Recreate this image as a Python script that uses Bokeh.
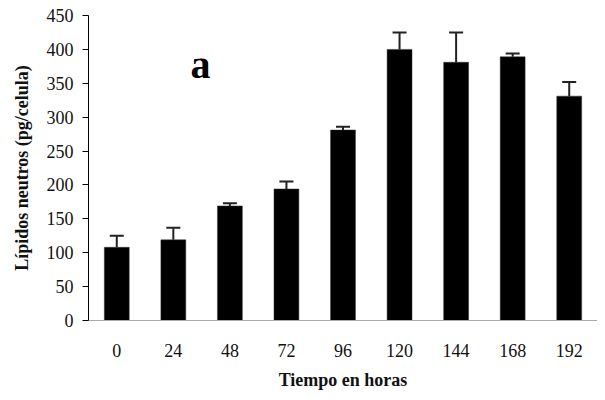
from bokeh.plotting import figure
from bokeh.models import ColumnDataSource, Whisker, TeeHead, FixedTicker, Label, FactorRange
from bokeh.embed import file_html
from bokeh.resources import INLINE

hours = ["0", "24", "48", "72", "96", "120", "144", "168", "192"]
lipids = [108, 119, 169, 194, 281, 400, 381, 389, 331]
errors = [17, 18, 4, 11, 5, 25, 44, 5, 21]
y_ticks = [0, 50, 100, 150, 200, 250, 300, 350, 400, 450]

upper = [v + e for v, e in zip(lipids, errors)]
src = ColumnDataSource(dict(x=hours, y=lipids, upper=upper))

p = figure(x_range=FactorRange(*hours), y_range=(0, 450), width=597, height=392,
           output_backend="svg", toolbar_location=None,
           min_border_left=88, min_border_right=0, min_border_top=15, min_border_bottom=72)

p.vbar(x="x", top="y", width=0.44, source=src, fill_color="black", line_color="#333333", line_width=0.5)

w = Whisker(base="x", lower="y", upper="upper", source=src,
            upper_head=TeeHead(size=14, line_color="#222222", line_width=2),
            lower_head=None, line_color="#222222", line_width=2)
p.add_layout(w)

serif = "Liberation Serif"
p.grid.visible = False
p.outline_line_color = None
p.background_fill_color = "white"

p.yaxis.ticker = FixedTicker(ticks=y_ticks)
p.yaxis.minor_tick_line_color = None
p.yaxis.major_tick_out = 6
p.yaxis.major_tick_in = 0
p.yaxis.axis_line_color = "black"
p.yaxis.major_tick_line_color = "black"
p.yaxis.major_label_text_font = serif
p.yaxis.major_label_text_font_size = "18px"
p.yaxis.major_label_text_color = "#111111"
p.yaxis.major_label_standoff = 9
p.yaxis.axis_label = "Lípidos neutros (pg/celula)"
p.yaxis.axis_label_text_font = serif
p.yaxis.axis_label_text_font_style = "bold"
p.yaxis.axis_label_text_font_size = "18px"
p.yaxis.axis_label_text_color = "#111111"
p.yaxis.axis_label_standoff = 12

p.xaxis.major_tick_line_color = None
p.xaxis.minor_tick_line_color = None
p.xaxis.axis_line_color = "#aaaaaa"
p.xaxis.major_label_text_font = serif
p.xaxis.major_label_text_font_size = "18px"
p.xaxis.major_label_text_color = "#111111"
p.xaxis.major_label_standoff = 17
p.xaxis.axis_label = "Tiempo en horas"
p.xaxis.axis_label_text_font = serif
p.xaxis.axis_label_text_font_style = "bold"
p.xaxis.axis_label_text_font_size = "18px"
p.xaxis.axis_label_text_color = "#111111"
p.xaxis.axis_label_standoff = 10

p.add_layout(Label(x=112, y=256, x_units="screen", y_units="screen", text="a",
                   text_font=serif, text_font_style="bold", text_font_size="40px",
                   text_color="black", text_align="center", text_baseline="middle"))

open("out.html", "w").write(file_html(p, INLINE))
